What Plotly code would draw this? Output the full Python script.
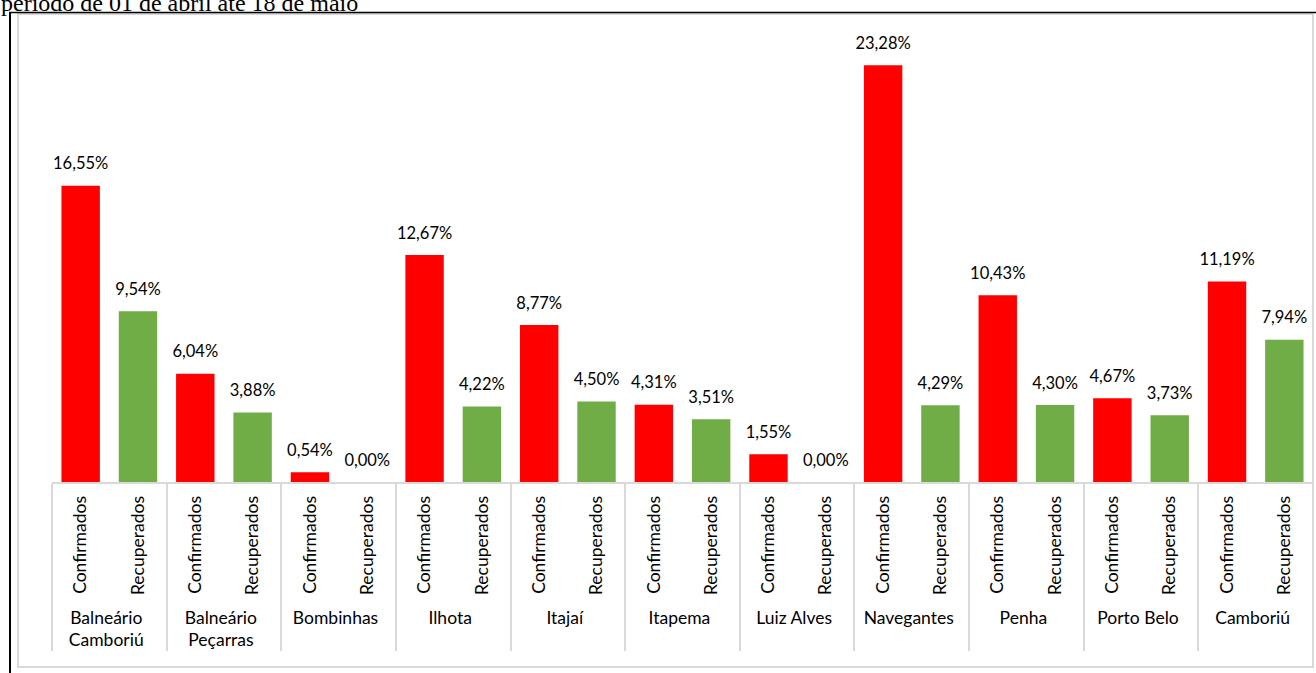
import plotly.graph_objects as go

# ──────────  DATA  ──────────
cidades = ["Balneário<br>Camboriú", "Balneário<br>Peçarras", "Bombinhas", "Ilhota", "Itajaí",
           "Itapema", "Luiz Alves", "Navegantes", "Penha", "Porto Belo", "Camboriú"]
confirmados = [16.55, 6.04, 0.54, 12.67, 8.77, 4.31, 1.55, 23.28, 10.43, 4.67, 11.19]
recuperados = [9.54, 3.88, 0.00, 4.22, 4.50, 3.51, 0.00, 4.29, 4.30, 3.73, 7.94]
series = ["Confirmados", "Recuperados"]
cores = ["#FF0000", "#70AD47"]
titulo = "período de 01 de abril até 18 de maio"

# ──────────  GEOMETRY (pixels)  ──────────
W, H = 1316, 673
L, R, T, B = 52, 3, 20, 191
PW, PH = W - L - R, H - T - B
YMAX = 25.8

def px(x):  # pixel -> paper x
    return (x - L) / PW

def py(y):  # pixel -> paper y
    return (H - B - y) / PH

def fmt(v):
    return f"{v:.2f}".replace(".", ",") + "%"

fig = go.Figure()

for nome, vals, cor in zip(series, [confirmados, recuperados], cores):
    fig.add_trace(go.Bar(
        x=[cidades, [nome] * len(cidades)], y=vals,
        marker=dict(color=cor, line_width=0), name=nome,
    ))

# data labels (invisible markers push the text up a bit)
todos_x0, todos_x1, todos_y = [], [], []
for c, a, b in zip(cidades, confirmados, recuperados):
    todos_x0 += [c, c]
    todos_x1 += series
    todos_y += [a, b]

fig.add_trace(go.Scatter(
    x=[todos_x0, todos_x1], y=todos_y, mode="markers+text",
    marker=dict(size=18, opacity=0), text=[fmt(v) for v in todos_y],
    textposition="top center", textfont=dict(family="Lato", size=16.5, color="black"),
    hoverinfo="skip", showlegend=False,
))

fig.update_xaxes(
    type="multicategory", tickangle=-90, showline=True, linecolor="#D9D9D9", linewidth=2,
    showdividers=True, dividercolor="#D9D9D9", dividerwidth=2, ticklabelstandoff=5,
    tickfont=dict(family="Lato", size=17.5, color="black"), showgrid=False,
    range=[-0.5, 2 * len(cidades) - 0.5], automargin=False,
)
fig.update_yaxes(visible=False, range=[0, YMAX], showgrid=False)

# chart area border + outer page border
fig.add_shape(type="rect", xref="paper", yref="paper",
              x0=px(18), x1=px(1313), y0=py(667), y1=py(14),
              line=dict(color="#D9D9D9", width=2), layer="below")
fig.add_shape(type="line", xref="paper", yref="paper",
              x0=px(10), x1=px(10), y0=py(12), y1=py(H + 5), line=dict(color="black", width=2))
fig.add_shape(type="line", xref="paper", yref="paper",
              x0=px(9), x1=px(W + 5), y0=py(12.5), y1=py(12.5), line=dict(color="black", width=1.5))

fig.add_annotation(text=titulo, xref="paper", yref="paper", x=px(-1), y=py(3),
                   xanchor="left", yanchor="middle", showarrow=False,
                   font=dict(family="Liberation Serif", size=24, color="black"))

fig.update_layout(
    width=W, height=H, barmode="relative", bargap=0.33,
    plot_bgcolor="white", paper_bgcolor="white", showlegend=False,
    margin=dict(l=L, r=R, t=T, b=B),
)

fig.write_html("out.html", config={"displayModeBar": False},
               post_script="document.body.style.margin = '0';")
